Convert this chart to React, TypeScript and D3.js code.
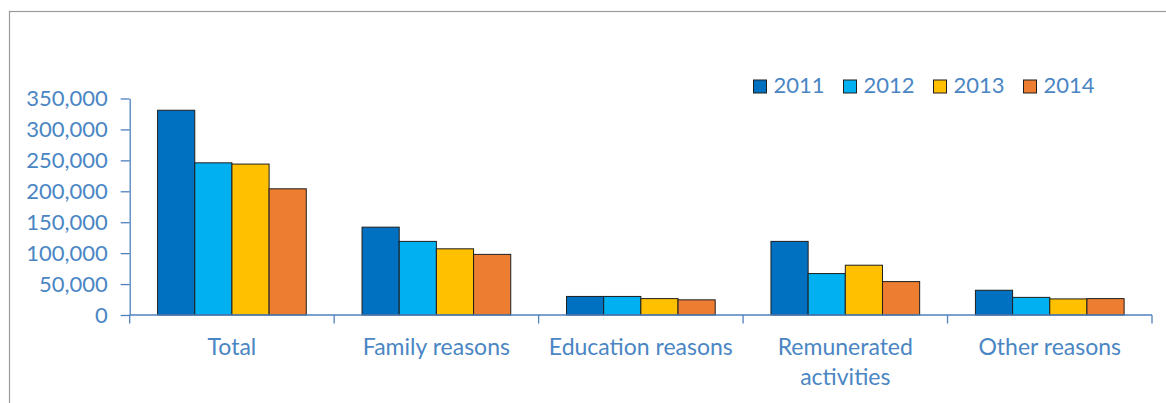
import React, { useRef, useEffect } from 'react';
import * as d3 from 'd3';

const categories = ['Total', 'Family reasons', 'Education reasons', 'Remunerated activities', 'Other reasons'];
const years = ['2011', '2012', '2013', '2014'];
const values2011 = [331000, 142000, 30000, 119000, 40000];
const values2012 = [246000, 119000, 30000, 67000, 28500];
const values2013 = [244000, 107000, 26500, 80500, 26000];
const values2014 = [204000, 98000, 24500, 54000, 26500];
const yTicks = [0, 50000, 100000, 150000, 200000, 250000, 300000, 350000];
const colors = ['#0070C0', '#00B0F0', '#FFC000', '#ED7D31'];

const W = 1166;
const H = 403;
const FONT = 'Lato, "Open Sans", sans-serif';
const TEXT_COLOR = '#4A86C4';
const AXIS_COLOR = '#4F81BD';

const App = () => {
  const svgRef = useRef<SVGSVGElement>(null);

  useEffect(() => {
    const svg = d3.select(svgRef.current);
    svg.selectAll('*').remove();

    const margin = { top: 98.5, right: 14, bottom: 88, left: 129.7 };
    const series = [values2011, values2012, values2013, values2014];

    // outer chart frame (runs past the right and bottom edges)
    svg.append('rect')
      .attr('x', 9.5)
      .attr('y', 11.5)
      .attr('width', W + 50)
      .attr('height', H + 50)
      .attr('fill', 'none')
      .attr('stroke', '#9a9a9a')
      .attr('stroke-width', 1.2);

    const xScale = d3.scaleBand()
      .domain(categories)
      .range([margin.left, W - margin.right]);

    const inner = d3.scaleBand()
      .domain(years)
      .range([0, xScale.bandwidth()])
      .paddingInner(0)
      .paddingOuter(0.75);

    const yScale = d3.scaleLinear()
      .domain([0, 350000])
      .range([H - margin.bottom, margin.top]);

    // bars
    years.forEach((yr, i) => {
      svg.append('g')
        .selectAll('rect')
        .data(series[i])
        .enter()
        .append('rect')
        .attr('x', (d, j) => xScale(categories[j]) + inner(yr))
        .attr('y', d => yScale(d))
        .attr('width', inner.bandwidth())
        .attr('height', d => yScale(0) - yScale(d))
        .attr('fill', colors[i])
        .attr('stroke', '#1e1e1e')
        .attr('stroke-width', 1);
    });

    // y axis
    const yAxis = d3.axisLeft(yScale)
      .tickValues(yTicks)
      .tickFormat(d3.format(','))
      .tickSizeInner(9)
      .tickSizeOuter(0)
      .tickPadding(13);

    const gy = svg.append('g')
      .attr('transform', `translate(${margin.left},0)`)
      .call(yAxis);
    gy.selectAll('text')
      .style('font-family', FONT)
      .style('font-size', '22px')
      .style('fill', TEXT_COLOR);
    gy.selectAll('line').attr('stroke', AXIS_COLOR).attr('stroke-width', 1.3);
    gy.select('.domain').attr('stroke', AXIS_COLOR).attr('stroke-width', 1.3);

    // x axis line with boundary ticks
    const x0 = margin.left;
    const x1 = W - margin.right;
    const y0 = yScale(0);
    svg.append('line')
      .attr('x1', x0).attr('x2', x1)
      .attr('y1', y0).attr('y2', y0)
      .attr('stroke', AXIS_COLOR)
      .attr('stroke-width', 1.3);

    const boundaries = categories.map(c => xScale(c)).concat([x1]);
    svg.append('g')
      .selectAll('line')
      .data(boundaries)
      .enter()
      .append('line')
      .attr('x1', d => d).attr('x2', d => d)
      .attr('y1', y0).attr('y2', y0 + 8.5)
      .attr('stroke', AXIS_COLOR)
      .attr('stroke-width', 1.3);

    // category labels, wrapped when wider than the band
    const labels = svg.append('g')
      .selectAll('text')
      .data(categories)
      .enter()
      .append('text')
      .attr('x', d => xScale(d) + xScale.bandwidth() / 2)
      .attr('y', 355)
      .attr('text-anchor', 'middle')
      .style('font-family', FONT)
      .style('font-size', '23px')
      .style('fill', TEXT_COLOR)
      .text(d => d);

    labels.each(function (d) {
      const node = this as SVGTextElement;
      if (node.getComputedTextLength() > xScale.bandwidth() - 4) {
        const words = d.split(' ');
        const cx = xScale(d) + xScale.bandwidth() / 2;
        const t = d3.select(node).text(null);
        words.forEach((w, k) => {
          t.append('tspan')
            .attr('x', cx)
            .attr('dy', k === 0 ? 0 : 30)
            .text(w);
        });
      }
    });

    // legend
    const legend = svg.append('g')
      .selectAll('g')
      .data(years)
      .enter()
      .append('g')
      .attr('transform', (d, i) => `translate(${753.5 + i * 90},0)`);

    legend.append('rect')
      .attr('x', 0)
      .attr('y', 80)
      .attr('width', 13)
      .attr('height', 13)
      .attr('fill', (d, i) => colors[i])
      .attr('stroke', '#1e1e1e')
      .attr('stroke-width', 1);

    legend.append('text')
      .attr('x', 20)
      .attr('y', 93)
      .style('font-family', FONT)
      .style('font-size', '22px')
      .style('fill', TEXT_COLOR)
      .text(d => d);
  }, []);

  return (
    <svg
      ref={svgRef}
      width={W}
      height={H}
      style={{ position: 'absolute', left: 0, top: 0, background: '#fff', display: 'block' }}
    ></svg>
  );
};

export default App;
